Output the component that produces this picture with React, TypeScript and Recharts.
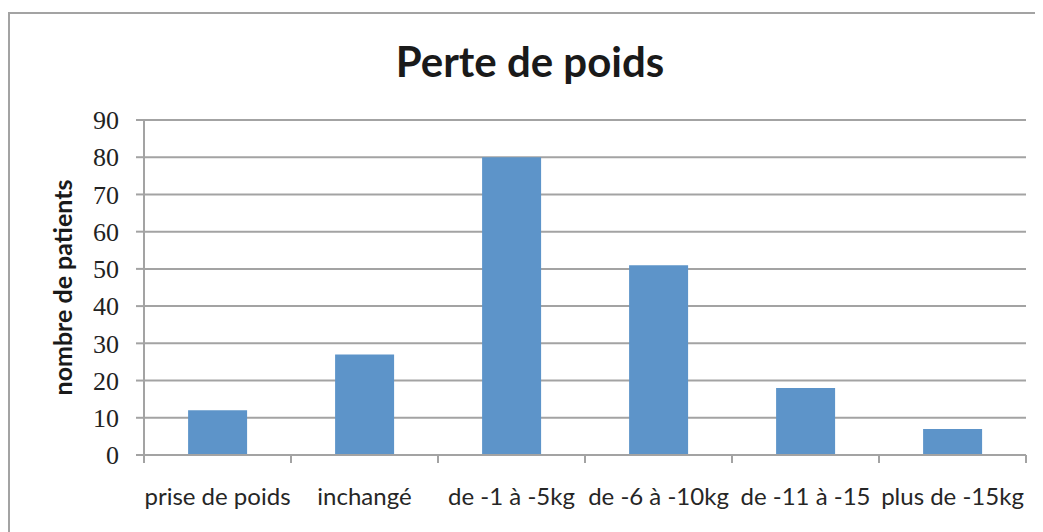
import React from 'react';
import { BarChart, Bar, XAxis, YAxis, CartesianGrid, Label } from 'recharts';

const categories = ['prise de poids', 'inchangé', 'de -1 à -5kg', 'de -6 à -10kg', 'de -11 à -15', 'plus de -15kg'];
const patients = [12, 27, 80, 51, 18, 7];
const yTicks = [0, 10, 20, 30, 40, 50, 60, 70, 80, 90];

const data = categories.map((c, i) => ({ name: c, value: patients[i] }));

const GRID = '#a3a3a3';
const BAR = '#5d94c9';

const CategoryTick = (props: any) => {
  const { x, y, payload, index, width, visibleTicksCount } = props;
  const half = width / visibleTicksCount / 2;
  return (
    <g>
      <line x1={x - half} x2={x - half} y1={y} y2={y + 8} stroke={GRID} strokeWidth={2} />
      {index === visibleTicksCount - 1 && (
        <line x1={x + half} x2={x + half} y1={y} y2={y + 8} stroke={GRID} strokeWidth={2} />
      )}
      <text x={x} y={y + 50} textAnchor="middle" fill="#262626" fontFamily="Lato, 'Open Sans', sans-serif" fontSize={24}>
        {payload.value}
      </text>
    </g>
  );
};

export default function App() {
  return (
    <div style={{ position: 'relative', width: 1035, height: 524, overflow: 'hidden', background: '#fff' }}>
      <div
        style={{
          position: 'absolute',
          left: 0,
          top: 4,
          width: 1100,
          height: 600,
          border: `2px solid ${GRID}`,
          boxSizing: 'border-box',
        }}
      />
      <div
        style={{
          position: 'absolute',
          left: 0,
          top: 32,
          width: 1044,
          textAlign: 'center',
          fontFamily: 'Lato, sans-serif',
          fontWeight: 700,
          fontSize: 42,
          lineHeight: '42px',
          color: '#1a1a1a',
        }}
      >
        Perte de poids
      </div>
      <div style={{ position: 'absolute', left: 0, top: 0 }}>
        <BarChart
          width={1044}
          height={540}
          data={data}
          margin={{ top: 112, right: 26, bottom: 33, left: 36 }}
          barCategoryGap="30%"
        >
          <CartesianGrid horizontal vertical={false} stroke={GRID} strokeWidth={2} />
          <XAxis
            dataKey="name"
            height={60}
            tickSize={0}
            tickMargin={0}
            tickLine={false}
            axisLine={{ stroke: GRID, strokeWidth: 2 }}
            tick={<CategoryTick />}
            interval={0}
          />
          <YAxis
            width={100}
            domain={[0, 90]}
            ticks={yTicks}
            interval={0}
            tickSize={8}
            tickMargin={17}
            tickLine={{ stroke: GRID, strokeWidth: 2 }}
            axisLine={{ stroke: GRID, strokeWidth: 2 }}
            tick={{ fill: '#222', fontFamily: "'Liberation Serif', serif", fontSize: 26 }}
          >
            <Label
              value="nombre de patients"
              angle={-90}
              position="insideLeft"
              offset={19}
              style={{ textAnchor: 'middle', fontFamily: 'Lato, sans-serif', fontWeight: 700, fontSize: 25, fill: '#1a1a1a' }}
            />
          </YAxis>
          <Bar dataKey="value" fill={BAR} isAnimationActive={false} />
        </BarChart>
      </div>
    </div>
  );
}
